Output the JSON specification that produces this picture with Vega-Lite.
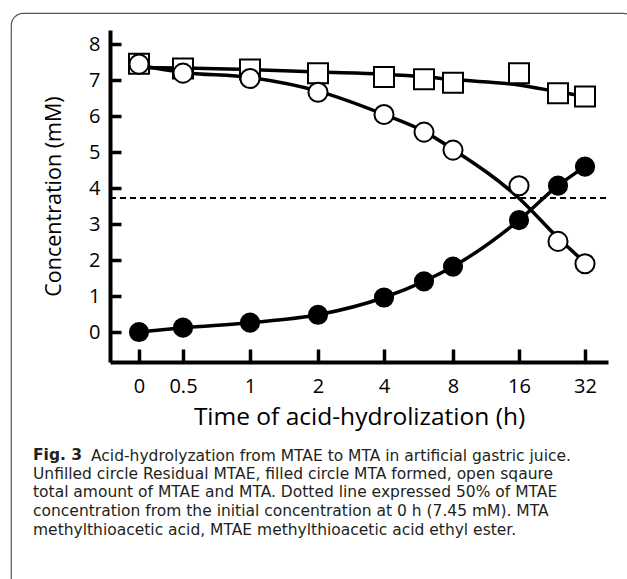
{
  "$schema": "https://vega.github.io/schema/vega-lite/v6.json",
  "autosize": {"type": "pad"},
  "padding": {"left": 10, "top": 12, "right": 0, "bottom": 0},
  "spacing": 0,
  "config": {
    "view": {"stroke": "#555555", "strokeWidth": 1.2, "cornerRadius": 12},
    "font": "Open Sans",
    "axisX": {
      "format": "~g",
      "grid": false,
      "offset": -229,
      "domainColor": "black", "domainWidth": 4,
      "tickColor": "black", "tickWidth": 3.5, "tickSize": -13,
      "labelFontSize": 20, "labelColor": "black", "labelPadding": 27, "labelFlush": false, "labelOverlap": false,
      "titleFontSize": 24.5, "titleFontWeight": "normal", "titleColor": "black", "titlePadding": 9
    },
    "axisY": {
      "format": "~g",
      "grid": false,
      "offset": -99,
      "domainColor": "black", "domainWidth": 4,
      "tickColor": "black", "tickWidth": 3.5, "tickSize": -10,
      "labelFontSize": 20, "labelColor": "black", "labelPadding": 21, "labelOverlap": false,
      "titleFontSize": 21.5, "titleFontWeight": "normal", "titleColor": "black", "titlePadding": 23
    }
  },
  "title": {
    "text": "Acid-hydrolyzation from MTAE to MTA in artificial gastric juice.",
    "orient": "bottom",
    "anchor": "start",
    "frame": "group",
    "offset": -143,
    "dx": 80,
    "font": "DejaVu Sans",
    "fontSize": 15.5,
    "fontWeight": "normal",
    "color": "#231f20"
  },
  "datasets": {
    "points": [
      {"t": 0, "conc": 7.46, "series": "total"},
      {"t": 0.5, "conc": 7.33, "series": "total"},
      {"t": 1, "conc": 7.3, "series": "total"},
      {"t": 2, "conc": 7.2, "series": "total"},
      {"t": 4, "conc": 7.09, "series": "total"},
      {"t": 6, "conc": 7.03, "series": "total"},
      {"t": 8, "conc": 6.93, "series": "total"},
      {"t": 16, "conc": 7.2, "series": "total"},
      {"t": 24, "conc": 6.64, "series": "total"},
      {"t": 32, "conc": 6.55, "series": "total"},
      {"t": 0, "conc": 7.45, "series": "MTAE"},
      {"t": 0.5, "conc": 7.2, "series": "MTAE"},
      {"t": 1, "conc": 7.05, "series": "MTAE"},
      {"t": 2, "conc": 6.67, "series": "MTAE"},
      {"t": 4, "conc": 6.05, "series": "MTAE"},
      {"t": 6, "conc": 5.56, "series": "MTAE"},
      {"t": 8, "conc": 5.06, "series": "MTAE"},
      {"t": 16, "conc": 4.07, "series": "MTAE"},
      {"t": 24, "conc": 2.52, "series": "MTAE"},
      {"t": 32, "conc": 1.9, "series": "MTAE"},
      {"t": 0, "conc": 0, "series": "MTA"},
      {"t": 0.5, "conc": 0.12, "series": "MTA"},
      {"t": 1, "conc": 0.26, "series": "MTA"},
      {"t": 2, "conc": 0.48, "series": "MTA"},
      {"t": 4, "conc": 0.96, "series": "MTA"},
      {"t": 6, "conc": 1.41, "series": "MTA"},
      {"t": 8, "conc": 1.82, "series": "MTA"},
      {"t": 16, "conc": 3.11, "series": "MTA"},
      {"t": 24, "conc": 4.07, "series": "MTA"},
      {"t": 32, "conc": 4.6, "series": "MTA"}
    ],
    "curves": [
      {"t": 0, "conc": 7.36, "series": "total"},
      {"t": 0.5, "conc": 7.34, "series": "total"},
      {"t": 1, "conc": 7.3, "series": "total"},
      {"t": 2, "conc": 7.23, "series": "total"},
      {"t": 4, "conc": 7.17, "series": "total"},
      {"t": 6, "conc": 7.1, "series": "total"},
      {"t": 8, "conc": 7.02, "series": "total"},
      {"t": 16, "conc": 6.87, "series": "total"},
      {"t": 24, "conc": 6.68, "series": "total"},
      {"t": 32, "conc": 6.55, "series": "total"},
      {"t": 0, "conc": 7.42, "series": "MTAE"},
      {"t": 0.5, "conc": 7.22, "series": "MTAE"},
      {"t": 1, "conc": 7.08, "series": "MTAE"},
      {"t": 2, "conc": 6.7, "series": "MTAE"},
      {"t": 4, "conc": 6.05, "series": "MTAE"},
      {"t": 6, "conc": 5.58, "series": "MTAE"},
      {"t": 8, "conc": 5.08, "series": "MTAE"},
      {"t": 16, "conc": 3.72, "series": "MTAE"},
      {"t": 24, "conc": 2.62, "series": "MTAE"},
      {"t": 32, "conc": 1.93, "series": "MTAE"},
      {"t": 0, "conc": 0, "series": "MTA"},
      {"t": 0.5, "conc": 0.12, "series": "MTA"},
      {"t": 1, "conc": 0.26, "series": "MTA"},
      {"t": 2, "conc": 0.48, "series": "MTA"},
      {"t": 4, "conc": 0.96, "series": "MTA"},
      {"t": 6, "conc": 1.41, "series": "MTA"},
      {"t": 8, "conc": 1.82, "series": "MTA"},
      {"t": 16, "conc": 3.11, "series": "MTA"},
      {"t": 24, "conc": 4.07, "series": "MTA"},
      {"t": 32, "conc": 4.6, "series": "MTA"}
    ]
  },
  "vconcat": [
    {
      "width": 624,
      "height": 578,
      "title": {
        "text": "Fig. 3",
        "subtitle": [
          "Unfilled circle Residual MTAE, filled circle MTA formed, open sqaure",
          "total amount of MTAE and MTA. Dotted line expressed 50% of MTAE",
          "concentration from the initial concentration at 0 h (7.45 mM). MTA",
          "methylthioacetic acid, MTAE methylthioacetic acid ethyl ester."
        ],
        "orient": "bottom",
        "anchor": "start",
        "frame": "group",
        "offset": -143,
        "dx": 22,
        "font": "DejaVu Sans",
        "fontSize": 15.5,
        "fontWeight": "bold",
        "color": "#231f20",
        "subtitleFont": "DejaVu Sans",
        "subtitleFontSize": 15.5,
        "subtitleColor": "#231f20",
        "subtitleLineHeight": 18.8,
        "subtitlePadding": 3
      },
      "layer": [
        {
          "data": {"values": [{"half": 3.725, "from": -0.34, "to": 38.8}]},
          "mark": {"type": "rule", "color": "black", "strokeWidth": 2, "strokeDash": [6, 4]},
          "encoding": {
            "x": {"field": "from", "type": "quantitative", "title": "Time of acid-hydrolization (h)",
                  "scale": {"type": "linear", "domain": [-0.34, 0, 0.5, 1, 2, 4, 6, 8, 16, 24, 32, 38.8],
                            "range": [99, 128, 172, 239, 307, 373, 413, 442, 508, 547, 574, 597], "nice": false, "zero": false},
                  "axis": {"values": [0, 0.5, 1, 2, 4, 8, 16, 32]}},
            "x2": {"field": "to"},
            "y": {"field": "half", "type": "quantitative", "title": "Concentration (mM)",
                  "scale": {"domain": [-0.834, 8.4], "range": [349, 17], "nice": false, "zero": false},
                  "axis": {
                    "values": [0, 0.5, 1, 1.5, 2, 2.5, 3, 3.5, 4, 4.5, 5, 5.5, 6, 6.5, 7, 7.5, 8],
                    "labelExpr": "datum.value % 1 === 0 ? datum.label : ''",
                    "tickSize": {"condition": {"test": "datum.value % 1 === 0", "value": -11}, "value": -7}
                  }}
          }
        },
        {
          "data": {"name": "curves"},
          "mark": {"type": "line", "color": "black", "strokeWidth": 3.5, "interpolate": "monotone"},
          "encoding": {
            "x": {"field": "t", "type": "quantitative", "title": "Time of acid-hydrolization (h)"},
            "y": {"field": "conc", "type": "quantitative", "title": "Concentration (mM)"},
            "detail": {"field": "series"}
          }
        },
        {
          "data": {"name": "points"},
          "mark": {"type": "point", "filled": true, "stroke": "black", "strokeWidth": 2, "opacity": 1},
          "encoding": {
            "x": {"field": "t", "type": "quantitative", "title": "Time of acid-hydrolization (h)"},
            "y": {"field": "conc", "type": "quantitative", "title": "Concentration (mM)"},
            "shape": {"field": "series", "type": "nominal", "legend": null,
                      "scale": {"domain": ["total", "MTAE", "MTA"], "range": ["square", "circle", "circle"]}},
            "fill": {"field": "series", "type": "nominal", "legend": null,
                     "scale": {"domain": ["total", "MTAE", "MTA"], "range": ["white", "white", "black"]}},
            "size": {"field": "series", "type": "nominal", "legend": null,
                     "scale": {"domain": ["total", "MTAE", "MTA"], "range": [400, 330, 330]}}
          }
        }
      ]
    }
  ]
}
